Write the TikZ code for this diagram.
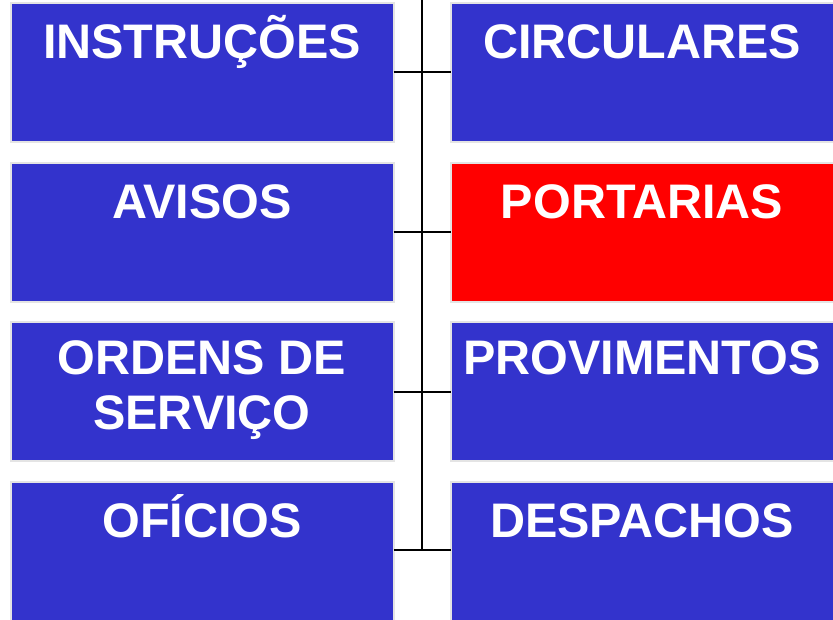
\documentclass[tikz,border=0pt]{standalone}
\usepackage{fontspec}
\setmainfont{Liberation Sans}
\definecolor{boxblue}{HTML}{3333CC}
\definecolor{boxred}{HTML}{FF0000}
\definecolor{boxedge}{HTML}{E4E4E4}
\tikzset{
  box/.style={rectangle, draw=boxedge, line width=2pt, inner sep=0pt, outer sep=0pt,
    minimum width=383pt, minimum height=139pt, fill=boxblue},
  redbox/.style={box, fill=boxred},
  lbl/.style={anchor=base, text=white, inner sep=0pt, align=center,
    font=\bfseries\fontsize{48.5}{55}\selectfont},
  conn/.style={draw=black, line width=2pt}
}
\begin{document}
\begin{tikzpicture}[x=1pt,y=1pt]
\useasboundingbox (0,0) rectangle (833,620);
\clip (0,0) rectangle (833,620);
% boxes (centres in tikz coordinates: y = 620 - px)
\node[box] (L1) at (202,547.5) {};
\node[box] (L2) at (202,387.5) {};
\node[box] (L3) at (202,228) {};
\node[box] (L4) at (202,68.5) {};
\node[box] (R1) at (642,547.5) {};
\node[redbox] (R2) at (642,387.5) {};
\node[box] (R3) at (642,228) {};
\node[box] (R4) at (642,68.5) {};
% labels
\node[lbl] (tL1) at (202,561) {INSTRUÇÕES};
\node[lbl] (tL2) at (202,401) {AVISOS};
\node[lbl] (tL3) at (202,190) {ORDENS DE\\SERVIÇO};
\node[lbl] (tL4) at (202,82) {OFÍCIOS};
\node[lbl] (tR1) at (642,561) {CIRCULARES};
\node[lbl] (tR2) at (642,401) {PORTARIAS};
\node[lbl] (tR3) at (642,245) {PROVIMENTOS};
\node[lbl] (tR4) at (642,82) {DESPACHOS};
% connectors
\coordinate (top) at (422,621);
\coordinate (bot) at (422,70);
\draw[conn] (top) -- (bot);
\draw[conn] (L1.east) -- (R1.west);
\draw[conn] (L2.east) -- (R2.west);
\draw[conn] (L3.east) -- (R3.west);
\draw[conn] (L4.east |- bot) -- (R4.west |- bot);
\end{tikzpicture}
\end{document}
